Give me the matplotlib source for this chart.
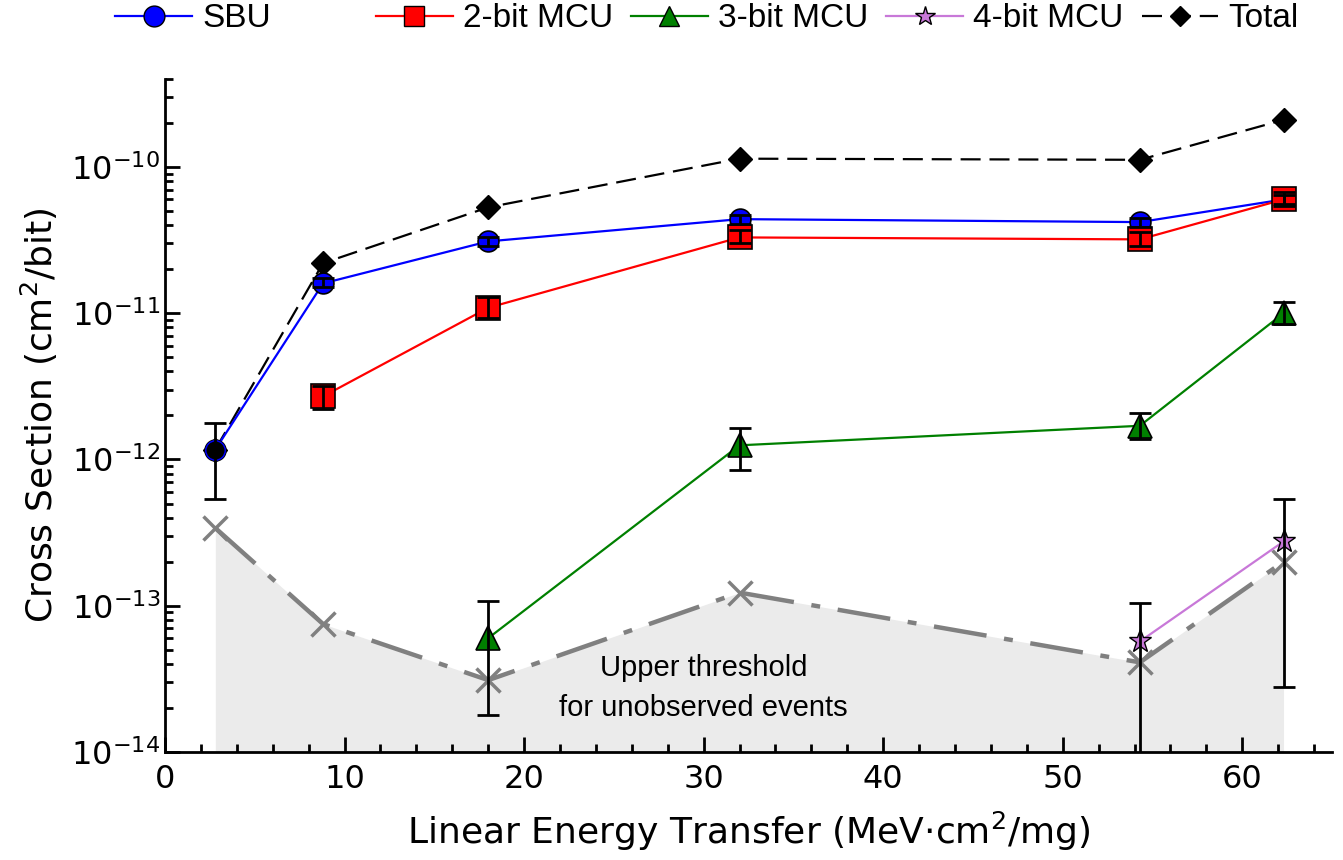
import numpy as np
import matplotlib
matplotlib.use("Agg")
import matplotlib.pyplot as plt
from matplotlib.lines import Line2D

# ---------------- data ----------------
let = [2.8, 8.8, 18.0, 32.0, 54.3, 62.3]

sbu = [1.17e-12, 1.6e-11, 3.1e-11, 4.4e-11, 4.2e-11, 6.0e-11]
sbu_lo = [5.4e-13, 1.5e-11, 2.9e-11, 4.1e-11, 3.9e-11, 5.6e-11]
sbu_hi = [1.78e-12, 1.75e-11, 3.3e-11, 4.7e-11, 4.5e-11, 6.4e-11]

let_2bit = [8.8, 18.0, 32.0, 54.3, 62.3]
mcu2 = [2.7e-12, 1.09e-11, 3.3e-11, 3.2e-11, 6.0e-11]
mcu2_lo = [2.2e-12, 9.3e-12, 3.0e-11, 2.9e-11, 5.4e-11]
mcu2_hi = [3.2e-12, 1.29e-11, 3.7e-11, 3.6e-11, 6.7e-11]

let_3bit = [18.0, 32.0, 54.3, 62.3]
mcu3 = [6.0e-14, 1.25e-12, 1.7e-12, 1.0e-11]
mcu3_lo = [1.8e-14, 8.5e-13, 1.38e-12, 8.5e-12]
mcu3_hi = [1.07e-13, 1.63e-12, 2.08e-12, 1.2e-11]

let_4bit = [54.3, 62.3]
mcu4 = [5.7e-14, 2.75e-13]
mcu4_lo = [1e-15, 2.8e-14]
mcu4_hi = [1.05e-13, 5.4e-13]

total = [1.17e-12, 2.2e-11, 5.3e-11, 1.14e-10, 1.12e-10, 2.1e-10]

threshold = [3.4e-13, 7.5e-14, 3.1e-14, 1.23e-13, 4.1e-14, 2.0e-13]

# ---------------- figure ----------------
fig = plt.figure(figsize=(13.43, 8.6), dpi=100)
ax = fig.add_axes([0.1229, 0.1256, 0.8689, 0.7826])
ax.set_yscale("log")
ax.set_xlim(0, 65)
ax.set_ylim(1e-14, 4e-10)

# shaded area under the upper threshold
ax.fill_between(let, threshold, 1e-15, color="#ebebeb", lw=0, zorder=1)
ax.plot(let, threshold, color="#808080", lw=3.2, dashes=(12, 4, 2, 4),
        marker="x", ms=17, mew=2.5, zorder=2)
ax.text(30.0, 2.75e-14, "Upper threshold\nfor unobserved events", ha="center", va="center",
        fontsize=21, family="Liberation Sans", linespacing=1.55, zorder=3)


def err(vals, lo, hi):
    v = np.array(vals)
    return [v - np.array(lo), np.array(hi) - v]


ebkw = dict(ecolor="black", elinewidth=2, capsize=8, capthick=2, zorder=6)

# total
ax.plot(let, total, color="black", lw=1.6, dashes=(9, 4), marker="D", ms=12,
        mfc="black", mec="black", zorder=4)
# 4-bit
ax.plot(let_4bit, mcu4, color="#c878d8", lw=1.6, marker="*", ms=17,
        mfc="#c878d8", mec="black", mew=1, zorder=4)
ax.errorbar(let_4bit, mcu4, yerr=err(mcu4, mcu4_lo, mcu4_hi), fmt="none", **ebkw)
# 3-bit
ax.plot(let_3bit, mcu3, color="green", lw=1.6, marker="^", ms=17,
        mfc="green", mec="black", mew=1.2, zorder=4)
ax.errorbar(let_3bit, mcu3, yerr=err(mcu3, mcu3_lo, mcu3_hi), fmt="none", **ebkw)
# SBU
ax.plot(let, sbu, color="blue", lw=1.6, marker="o", ms=15,
        mfc="blue", mec="black", mew=1.2, zorder=4)
ax.plot(let[:1], total[:1], ls="none", marker="o", ms=14, mfc="black",
        mec="blue", mew=1, zorder=5)
ax.errorbar(let, sbu, yerr=err(sbu, sbu_lo, sbu_hi), fmt="none", **ebkw)
# 2-bit
ax.plot(let_2bit, mcu2, color="red", lw=1.6, marker="s", ms=17,
        mfc="red", mec="black", mew=1.2, zorder=4)
ax.errorbar(let_2bit, mcu2, yerr=err(mcu2, mcu2_lo, mcu2_hi), fmt="none", **ebkw)

# axes styling
for s in ["top", "right"]:
    ax.spines[s].set_visible(False)
for s in ["left", "bottom"]:
    ax.spines[s].set_linewidth(2)
ax.set_xticks([0, 10, 20, 30, 40, 50, 60])
ax.set_xticks(np.arange(0, 65, 2), minor=True)
ax.tick_params(which="both", direction="in", width=2, labelsize=23)
ax.tick_params(which="major", length=11)
ax.tick_params(which="minor", length=6)
ax.tick_params(axis="x", pad=9)
ax.set_yticks([1e-14, 1e-13, 1e-12, 1e-11, 1e-10])

ax.set_xlabel(r"Linear Energy Transfer (MeV$\cdot$cm$^2$/mg)", fontsize=26, labelpad=10)
ax.set_ylabel(r"Cross Section (cm$^2$/bit)", fontsize=26, labelpad=8)

# legend split in two, the SBU entry stands apart
h_sbu = Line2D([], [], color="blue", lw=1.6, marker="o", ms=15, mfc="blue", mec="black")
h_2 = Line2D([], [], color="red", lw=1.6, marker="s", ms=15, mfc="red", mec="black")
h_3 = Line2D([], [], color="green", lw=1.6, marker="^", ms=15, mfc="green", mec="black")
h_4 = Line2D([], [], color="#c878d8", lw=1.6, marker="*", ms=15, mfc="#c878d8", mec="black")
h_t = Line2D([], [], color="black", lw=1.6, dashes=(9, 4), marker="D", ms=10, mfc="black")

lkw = dict(frameon=False, prop={"family": "Liberation Sans", "size": 24},
           handlelength=2.3, handletextpad=0.3, borderaxespad=0)
fig.legend([h_sbu], ["SBU"], loc="center left", bbox_to_anchor=(0.076, 0.978), **lkw)
fig.legend([h_2, h_3, h_4, h_t], ["2-bit MCU", "3-bit MCU", "4-bit MCU", "Total"],
           loc="center left", bbox_to_anchor=(0.27, 0.978), ncol=4, columnspacing=0.55, **lkw)

fig.savefig("out.png", dpi=100)
